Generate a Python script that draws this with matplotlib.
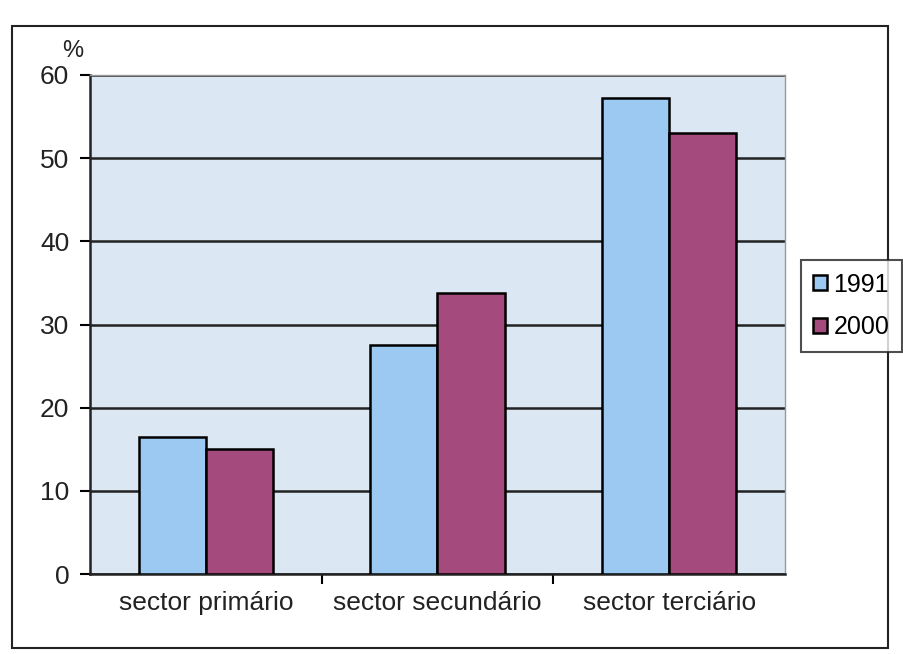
import matplotlib
matplotlib.use("Agg")
import matplotlib.pyplot as plt
import numpy as np
from matplotlib.patches import Rectangle

plt.rcParams['font.family'] = ['Liberation Sans', 'DejaVu Sans']

categories = ["sector primário", "sector secundário", "sector terciário"]
years = ["1991", "2000"]
values_1991 = [16.5, 27.5, 57.2]
values_2000 = [15.0, 33.8, 53.0]
yticks = [0, 10, 20, 30, 40, 50, 60]

fig = plt.figure(figsize=(9.04, 6.54), dpi=100)
fig.patch.set_facecolor("white")
# outer chart border
fig.patches.append(Rectangle((12/904, 1-648/654), 876/904, 622/654, transform=fig.transFigure,
                             fill=False, edgecolor="#222222", linewidth=1.5))

ax = fig.add_axes([90/904, 1-574/654, 695/904, 499/654])
ax.set_facecolor("#dbe8f3")
x = np.arange(len(categories))
w = 0.29
c1 = "#9cc9f2"
c2 = "#a44a7c"
ax.bar(x - w/2, values_1991, w, color=c1, edgecolor="black", linewidth=1.8, label=years[0], zorder=3)
ax.bar(x + w/2, values_2000, w, color=c2, edgecolor="black", linewidth=1.8, label=years[1], zorder=3)

ax.set_xlim(-0.5, 2.5)
ax.set_ylim(0, 60)
ax.set_yticks(yticks)
ax.set_yticklabels([str(t) for t in yticks], fontsize=19, color="#222222")
ax.yaxis.grid(True, color="#222222", linewidth=1.8, zorder=1)
ax.set_axisbelow(True)
ax.set_xticks(x)
ax.set_xticklabels(categories, fontsize=19, color="#222222")
ax.tick_params(axis="x", length=0, pad=12)
ax.set_xticks([0.5, 1.5], minor=True)
ax.tick_params(axis="x", which="minor", length=7, width=1.5, direction="out")
ax.tick_params(axis="y", length=7, width=1.5, direction="out", pad=8)
for s in ["top", "right"]:
    ax.spines[s].set_color("#999999")
    ax.spines[s].set_linewidth(1.0)
for s in ["left", "bottom"]:
    ax.spines[s].set_color("#222222")
    ax.spines[s].set_linewidth(1.8)

fig.text(62/904, 1-62/654, "%", fontsize=17, color="#222222", ha="left", va="bottom")

leg = fig.legend(loc="upper left", bbox_to_anchor=(801/904, 1-260/654), fontsize=18,
                 frameon=True, fancybox=False, edgecolor="#222222", handlelength=0.55,
                 handleheight=0.55, handletextpad=0.25, borderpad=0.5, labelspacing=0.75,
                 borderaxespad=0)
leg.get_frame().set_linewidth(1.5)

fig.savefig("out.png", dpi=100)
